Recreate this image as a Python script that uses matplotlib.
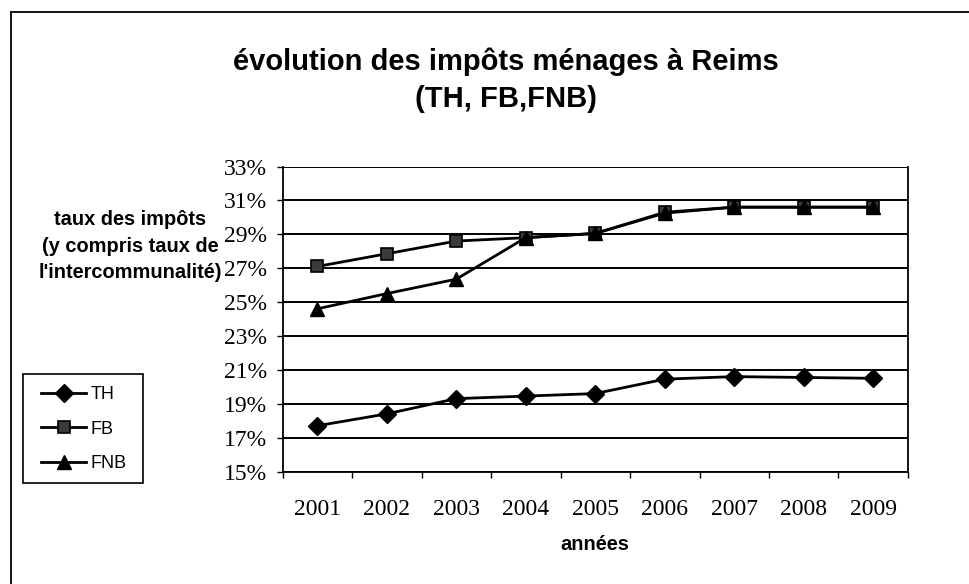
import matplotlib
matplotlib.use("Agg")
import matplotlib.pyplot as plt
from matplotlib.lines import Line2D
from matplotlib.patches import Rectangle

# ---- data ----
years = ["2001", "2002", "2003", "2004", "2005", "2006", "2007", "2008", "2009"]
TH = [17.7, 18.4, 19.3, 19.45, 19.6, 20.45, 20.6, 20.55, 20.5]
FB = [27.1, 27.85, 28.6, 28.8, 29.05, 30.3, 30.6, 30.6, 30.6]
FNB = [24.6, 25.5, 26.35, 28.8, 29.05, 30.25, 30.6, 30.6, 30.6]
y_ticks = [15, 17, 19, 21, 23, 25, 27, 29, 31, 33]
y_tick_labels = [f"{v}%" for v in y_ticks]

title = "évolution des impôts ménages à Reims\n(TH, FB,FNB)"
ylabel = "taux des impôts\n(y compris taux de\nl'intercommunalité)"
xlabel = "années"

W, H = 970, 584
fig = plt.figure(figsize=(W / 100, H / 100), dpi=100)
fig.patch.set_facecolor("white")

def fx(px):
    return px / W

def fy(py):
    return 1 - py / H

ax = fig.add_axes([fx(282.5), fy(471.5), fx(908) - fx(282.5), fy(166.5) - fy(471.5)])

x = list(range(len(years)))
lw = 2.0
ax.plot(x, TH, color="black", lw=lw, marker="D", markersize=9,
        markerfacecolor="black", markeredgecolor="black", label="TH", zorder=3)
ax.plot(x, FB, color="black", lw=lw, marker="s", markersize=8.5,
        markerfacecolor="#3a3a3a", markeredgecolor="black", markeredgewidth=1.2,
        label="FB", zorder=3)
ax.plot(x, FNB, color="black", lw=lw, marker="^", markersize=10,
        markerfacecolor="black", markeredgecolor="black", label="FNB", zorder=4)

ax.set_xlim(-0.5, len(years) - 0.5)
ax.set_ylim(15, 33)

# y axis
ax.set_yticks(y_ticks)
ax.set_yticklabels(y_tick_labels, family="Liberation Serif", fontsize=17)
ax.yaxis.grid(True, color="black", lw=1.4)
ax.set_axisbelow(True)
ax.tick_params(axis="y", direction="out", length=4.3, width=1.0, pad=7, colors="black")

# x axis: ticks at category boundaries, labels at centres
ax.set_xticks([i - 0.5 for i in range(len(years) + 1)])
ax.set_xticklabels([])
ax.set_xticks(x, minor=True)
ax.set_xticklabels(years, minor=True, family="Liberation Serif", fontsize=17)
ax.tick_params(axis="x", which="major", direction="out", length=4, width=1.0)
ax.tick_params(axis="x", which="minor", length=0, pad=20)

for s in ["left", "bottom", "right"]:
    ax.spines[s].set_color("black")
    ax.spines[s].set_linewidth(1.3)
ax.spines["top"].set_visible(False)

# titles
fig.text(fx(506), fy(80), title, ha="center", va="center", family="Liberation Sans",
         fontweight="bold", fontsize=21, linespacing=1.4)
fig.text(fx(130), fy(246), ylabel, ha="center", va="center", multialignment="center",
         family="Liberation Sans", fontweight="bold", fontsize=14.4, linespacing=1.5)
fig.text(fx(595), fy(545), xlabel, ha="center", va="center", family="Liberation Sans",
         fontweight="bold", fontsize=14.4)

# legend
leg = ax.legend(loc="upper left", bbox_to_anchor=(fx(41), fy(386)),
                bbox_transform=fig.transFigure, frameon=False, borderpad=0,
                borderaxespad=0, handlelength=2.5, handletextpad=0.25,
                labelspacing=0.97, prop={"family": "Liberation Sans", "size": 13})
fig.patches.append(Rectangle((fx(22.7), fy(483)), fx(142.7) - fx(22.7), fy(374) - fy(483),
                             transform=fig.transFigure, fill=False, edgecolor="black",
                             lw=1.2))

# outer chart frame (top and left edges visible)
fig.add_artist(Line2D([fx(11), 1.0], [fy(12), fy(12)], color="black", lw=1.3,
                      transform=fig.transFigure))
fig.add_artist(Line2D([fx(11), fx(11)], [fy(12), 0.0], color="black", lw=1.3,
                      transform=fig.transFigure))

fig.savefig("out.png", dpi=100, facecolor="white")
